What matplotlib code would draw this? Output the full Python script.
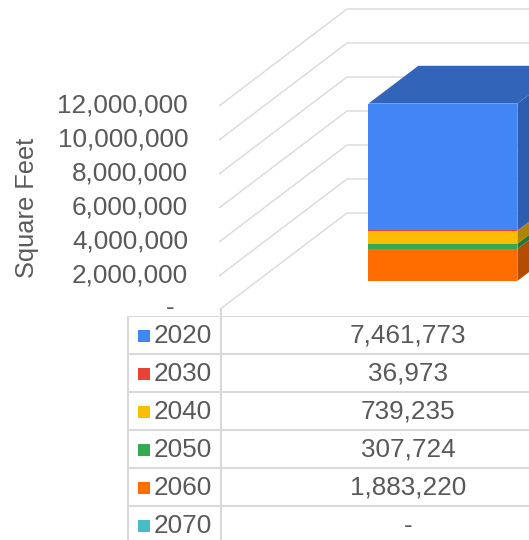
import matplotlib
matplotlib.use("Agg")
import matplotlib.pyplot as plt
from matplotlib.patches import Polygon, Rectangle

plt.rcParams["font.family"] = ["Liberation Sans", "DejaVu Sans"]

# data
SERIES = ["2020", "2030", "2040", "2050", "2060", "2070"]
VALUES = [7461773, 36973, 739235, 307724, 1883220, 0]
COLORS = ["#4285F4", "#EA4335", "#FBBC04", "#34A853", "#FF6D01", "#46BDC6"]
SIDE_COLORS = ["#2D5DAE", "#A62F25", "#B08403", "#24773B", "#B44D00", "#318590"]
TOP_COLOR = "#3265BA"
YTICKS = [0, 2000000, 4000000, 6000000, 8000000, 10000000, 12000000]
YLABEL = "Square Feet"

TEXT_C = "#595959"
GRID_C = "#d9d9d9"
FS = 18.8
FS_LABEL = 18.3

W, H = 529, 540
PX_PER_UNIT = 17 / 1e6          # pixels per square foot
TABLE_TOP = 316                  # pixel row where the table begins
ZERO_PX = 310                    # pixel row of the front zero line

# pseudo 3D projection: depth 0..1 moves right DX px and up DV units
DX = 128
DV = 97 / PX_PER_UNIT
WALL_X = 219
BAR_X0, BAR_W = 330, 149
D0, D1 = 0.30, 0.69


def fmt(v):
    return "-" if v == 0 else f"{v:,.0f}"


fig = plt.figure(figsize=(W / 100, H / 100), dpi=100)

# ---- chart part (y in square feet) ----
ax = fig.add_axes([0, 1 - TABLE_TOP / H, 1, TABLE_TOP / H])
ax.set_xlim(0, W)
ax.set_ylim(-(TABLE_TOP - ZERO_PX) / PX_PER_UNIT, ZERO_PX / PX_PER_UNIT)
ax.axis("off")

for t in YTICKS:
    ax.plot([WALL_X, WALL_X + DX, W], [t, t + DV, t + DV],
            color=GRID_C, lw=1.0, solid_capstyle="butt", zorder=1)
    if t == 0:
        ax.text(170, t + 0.1e6, fmt(t), ha="center", va="center", fontsize=FS, color=TEXT_C)
    else:
        ax.text(188, t, fmt(t), ha="right", va="center", fontsize=FS, color=TEXT_C)

ax.text(27, 6.0e6, YLABEL, rotation=90, ha="center", va="center",
        fontsize=FS_LABEL, color=TEXT_C)

# bar column divider reaching up to the zero line
ax.plot([221, 221], [ax.get_ylim()[0], 0], color=GRID_C, lw=1.5, zorder=1)

# stacked 3D bar: last series at the bottom
xf0 = BAR_X0 + D0 * DX
xf1 = BAR_X0 + BAR_W + D0 * DX
xb1 = BAR_X0 + BAR_W + D1 * DX
xb0 = BAR_X0 + D1 * DX
cum = 0
for i in list(range(len(SERIES)))[::-1]:
    v = VALUES[i]
    if v == 0:
        continue
    lo, hi = cum, cum + v
    ax.add_patch(Rectangle((xf0, lo + D0 * DV), BAR_W, v, facecolor=COLORS[i],
                           edgecolor="none", zorder=3))
    ax.add_patch(Polygon([(xf1, lo + D0 * DV), (xb1, lo + D1 * DV),
                          (xb1, hi + D1 * DV), (xf1, hi + D0 * DV)],
                         closed=True, facecolor=SIDE_COLORS[i], edgecolor="none", zorder=3))
    cum = hi

ax.add_patch(Polygon([(xf0, cum + D0 * DV), (xf1, cum + D0 * DV),
                      (xb1, cum + D1 * DV), (xb0, cum + D1 * DV)],
                     closed=True, facecolor=TOP_COLOR, edgecolor="none", zorder=3))

# ---- data table ----
tx = fig.add_axes([0, 0, 1, 1 - TABLE_TOP / H])
tx.set_xlim(0, W)
tx.set_ylim(H, TABLE_TOP)
tx.axis("off")

ROW_H = 38
TBL_L, TBL_DIV = 128, 221
VAL_X = 408
n = len(SERIES)
for r in range(n + 1):
    y = TABLE_TOP + r * ROW_H
    tx.plot([TBL_L, W], [y, y], color=GRID_C, lw=1.5, zorder=1)
for x in (TBL_L, TBL_DIV):
    tx.plot([x, x], [TABLE_TOP, H], color=GRID_C, lw=1.5, zorder=1)

for r, (name, v, c) in enumerate(zip(SERIES, VALUES, COLORS)):
    yc = TABLE_TOP + r * ROW_H + ROW_H / 2 + 1
    tx.add_patch(Rectangle((138, yc - 6), 12, 12, facecolor=c, edgecolor="none"))
    tx.text(154, yc, name, ha="left", va="center", fontsize=FS, color=TEXT_C)
    tx.text(VAL_X, yc, fmt(v), ha="center", va="center", fontsize=FS, color=TEXT_C)

fig.savefig("out.png", dpi=100)
